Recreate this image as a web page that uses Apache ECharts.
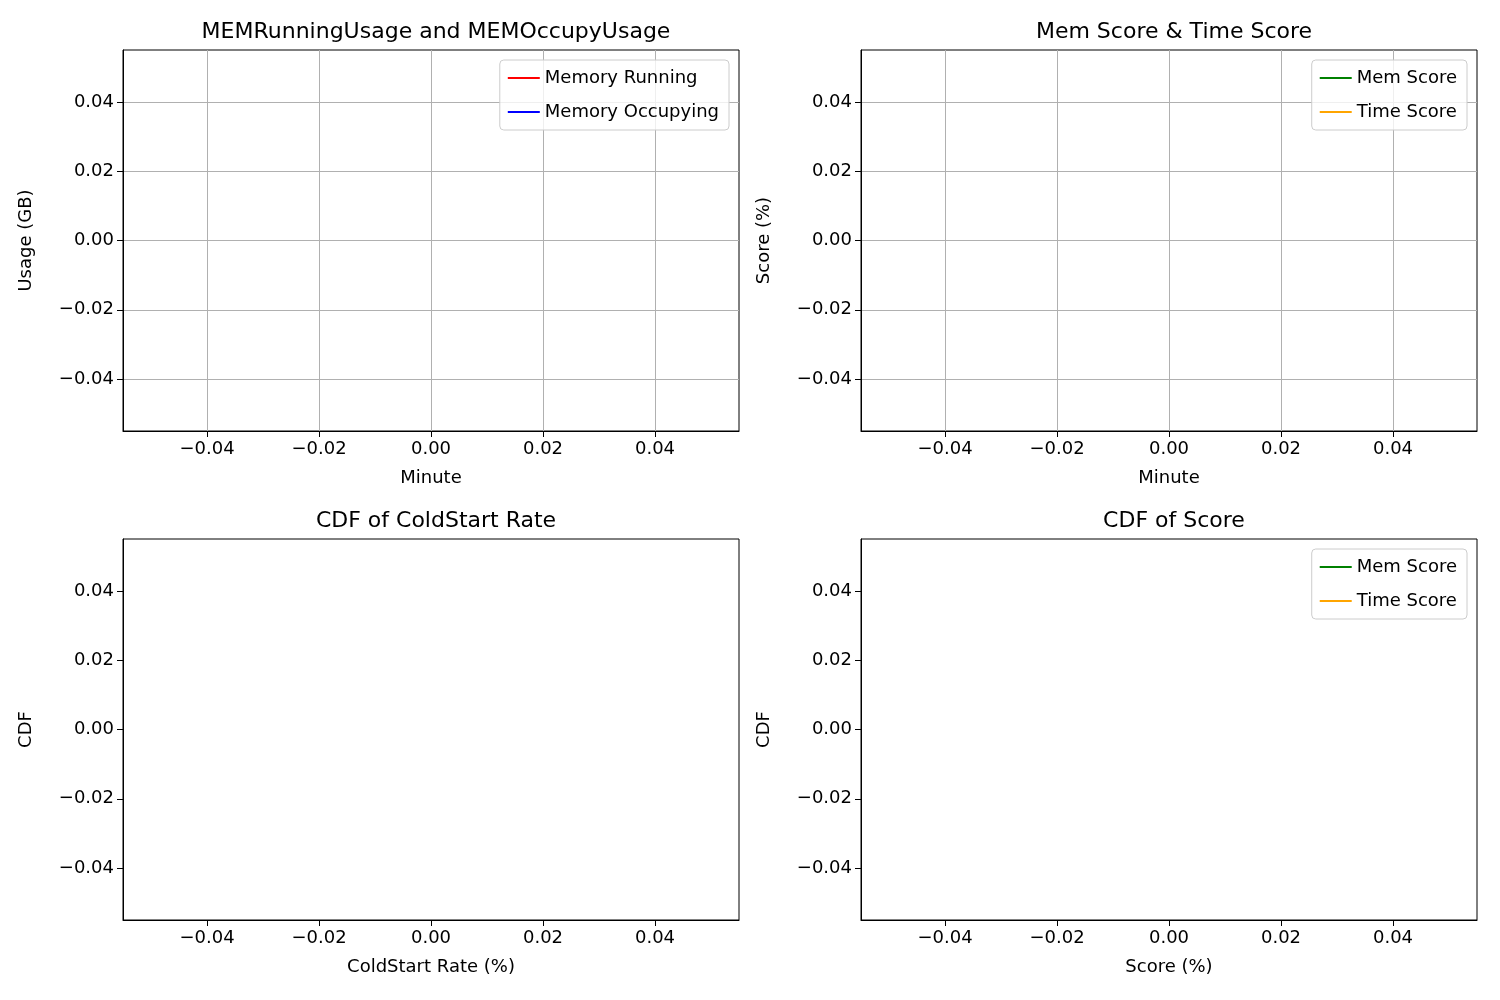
<!DOCTYPE html>
<html>
<head>
<meta charset="utf-8">
<script src="https://cdn.jsdelivr.net/npm/echarts@6/dist/echarts.min.js"></script>
<style>html,body{margin:0;padding:0;background:#fff}#chart{width:1500px;height:1000px}</style>
</head>
<body>
<div id="chart"></div>
<script>
// all four panels are empty in the reference
const tickValues = [-0.04, -0.02, 0, 0.02, 0.04];
const axisRange = [-0.055, 0.055];

const panels = [
  { title: 'MEMRunningUsage and MEMOccupyUsage', xName: 'Minute', yName: 'Usage (GB)', grid: true,
    series: ['Memory Running', 'Memory Occupying'], colors: ['red', 'blue'], data: [[], []] },
  { title: 'Mem Score & Time Score', xName: 'Minute', yName: 'Score (%)', grid: true,
    series: ['Mem Score', 'Time Score'], colors: ['green', 'orange'], data: [[], []] },
  { title: 'CDF of ColdStart Rate', xName: 'ColdStart Rate (%)', yName: 'CDF', grid: false,
    series: [], colors: [], data: [] },
  { title: 'CDF of Score', xName: 'Score (%)', yName: 'CDF', grid: false,
    series: ['Mem Score', 'Time Score'], colors: ['pink', 'gray'], data: [[], []] }
];

const boxes = [
  { left: 123, top: 50 }, { left: 861, top: 50 },
  { left: 123, top: 539 }, { left: 861, top: 539 }
];
const W = 616, H = 381;
const font = 'DejaVu Sans';
const fmt = v => (Math.abs(v) < 1e-9 ? 0 : v).toFixed(2).replace('-', '\u2212');

const option = { animation: false, title: [], grid: [], xAxis: [], yAxis: [], legend: [], series: [] };

panels.forEach((p, i) => {
  const b = boxes[i];
  option.title.push({ text: p.title, left: b.left + W / 2, top: b.top - 34, textAlign: 'center',
    textStyle: { fontFamily: font, fontSize: 22, fontWeight: 'normal', color: '#000' } });
  option.grid.push({ left: b.left, top: b.top, width: W, height: H, show: true,
    borderColor: '#000', borderWidth: 1, backgroundColor: 'transparent' });
  const ax = (type) => ({
    type: 'value', gridIndex: i, min: axisRange[0], max: axisRange[1],
    name: type === 'x' ? p.xName : p.yName, nameLocation: 'middle',
    nameGap: type === 'x' ? 38 : 88,
    nameTextStyle: { fontFamily: font, fontSize: 18, color: '#000' },
    axisLine: { show: true, onZero: false, lineStyle: { color: '#000' } },
    axisTick: { show: true, inside: false, length: 6, customValues: tickValues, lineStyle: { color: '#000' } },
    axisLabel: { customValues: tickValues, formatter: fmt, fontFamily: font, fontSize: 18, color: '#000', margin: 9 },
    splitLine: { show: p.grid, lineStyle: { color: '#b0b0b0', width: 1 } }
  });
  option.xAxis.push(ax('x'));
  option.yAxis.push(ax('y'));
  if (p.series.length) {
    option.legend.push({ orient: 'vertical', right: 1500 - (b.left + W) + 10, top: b.top + 10,
      data: p.series, icon: 'rect', itemWidth: 32, itemHeight: 2, itemGap: 16,
      padding: [9, 10, 9, 8], borderColor: '#ccc', borderWidth: 1, borderRadius: 4,
      backgroundColor: 'rgba(255,255,255,0.8)',
      textStyle: { fontFamily: font, fontSize: 18, color: '#000' } });
  }
  p.series.forEach((name, k) => {
    option.series.push({ type: 'line', name, xAxisIndex: i, yAxisIndex: i, data: p.data[k],
      color: p.colors[k], showSymbol: false, lineStyle: { color: p.colors[k], width: 1.5 } });
  });
});

const chart = echarts.init(document.getElementById('chart'));
chart.setOption(option);
</script>
</body>
</html>
